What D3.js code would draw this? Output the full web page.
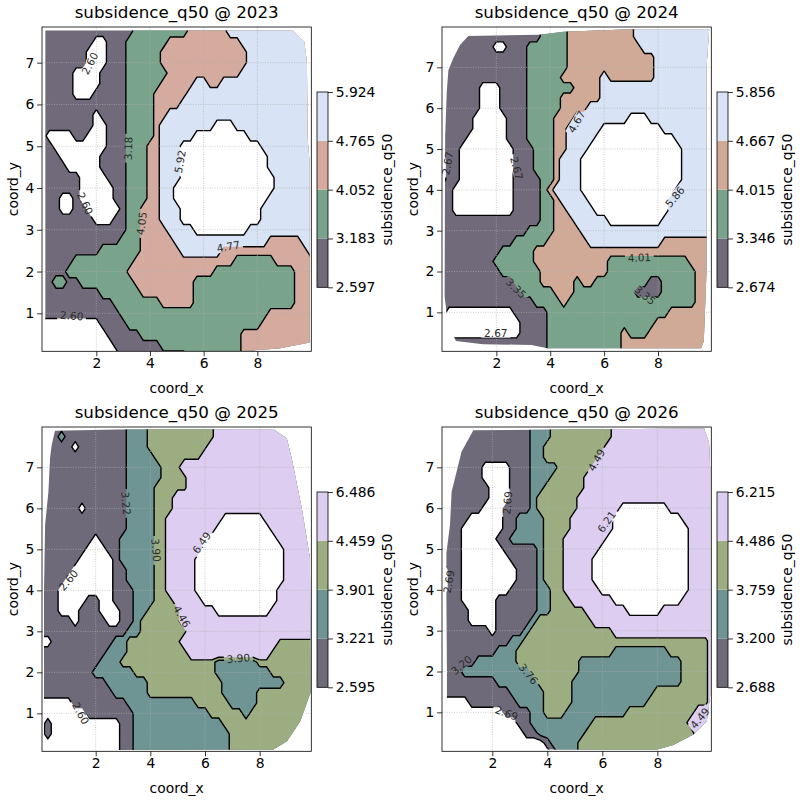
<!DOCTYPE html>
<html><head><meta charset="utf-8">
<script src="https://cdn.jsdelivr.net/npm/d3@7"></script>
<style>body{margin:0;background:#fff}svg{display:block}</style>
</head><body>
<svg id="chart" width="800" height="800"></svg>
<script>
// ---------------- DATA ----------------
const years = [2023, 2024, 2025, 2026];
const xTicks = [2, 4, 6, 8];
const yTicks = [1, 2, 3, 4, 5, 6, 7];

// contour levels (colorbar boundaries)
const levels2023 = [2.597, 3.183, 4.052, 4.765, 5.924];
const levels2024 = [2.674, 3.346, 4.015, 4.667, 5.856];
const levels2025 = [2.595, 3.221, 3.901, 4.459, 6.486];
const levels2026 = [2.688, 3.200, 3.759, 4.486, 6.215];

// representative subsidence value of each band code 0..5 (0 = below lowest level, 5 = above highest)
const bandValues2023 = [2.30, 2.89, 3.62, 4.41, 5.34, 6.50];
const bandValues2024 = [2.34, 3.01, 3.68, 4.34, 5.26, 6.45];
const bandValues2025 = [2.28, 2.91, 3.56, 4.18, 5.47, 7.50];
const bandValues2026 = [2.43, 2.94, 3.48, 4.12, 5.35, 7.08];

// gridded field, x = 0..10 step 0.25 (41 columns), rows y = 8 .. 0 step 0.25 (33 rows),
// run-length encoded as [bandCode, count, bandCode, count, ...]
const grid2023 = [
 [1,14,2,8,3,6,4,13],
 [1,14,2,8,3,6,4,13],
 [1,8,0,2,1,3,2,6,3,11,4,11],
 [1,7,0,3,1,3,2,5,3,13,4,10],
 [1,7,0,3,1,3,2,5,3,13,4,10],
 [1,5,0,4,1,4,2,6,3,11,4,11],
 [1,5,0,4,1,4,2,5,3,5,4,2,3,2,4,14],
 [1,5,0,3,1,5,2,4,3,5,4,19],
 [1,13,2,4,3,4,4,20],
 [1,8,0,1,1,4,2,4,3,2,4,22],
 [1,8,0,2,1,3,2,4,3,1,4,8,5,3,4,12],
 [1,1,0,4,1,2,0,3,1,3,2,4,3,1,4,5,5,8,4,10],
 [1,2,0,8,1,3,2,3,3,2,4,3,5,12,4,8],
 [1,3,0,6,1,4,2,3,3,2,4,3,5,13,4,7],
 [1,4,0,5,1,4,2,3,3,2,4,3,5,13,4,7],
 [1,6,0,4,1,3,2,3,3,2,4,3,5,14,4,6],
 [1,6,0,5,1,2,2,3,3,2,4,2,5,15,4,6],
 [1,3,0,2,1,1,0,5,1,2,2,3,3,2,4,2,5,14,4,7],
 [1,3,0,2,1,2,0,5,1,1,2,2,3,3,4,3,5,12,4,8],
 [1,8,0,3,1,2,2,2,3,3,4,3,5,12,4,8],
 [1,13,2,2,3,4,4,4,5,8,4,10],
 [1,12,2,3,3,5,4,14,3,5,4,2],
 [1,9,2,6,3,6,4,6,3,13,4,1],
 [1,5,2,9,3,15,2,6,3,6],
 [1,4,2,9,3,13,2,12,3,3],
 [1,2,2,2,1,2,2,8,3,9,2,15,3,3],
 [1,9,2,6,3,8,2,15,3,3],
 [1,11,2,7,3,5,2,15,3,3],
 [1,12,2,22,3,7],
 [0,9,1,4,2,20,3,8],
 [0,10,1,5,2,15,3,11],
 [0,11,1,7,2,12,3,11],
 [0,12,1,10,2,8,3,11]
];
const grid2024 = [
 [1,15,2,4,3,10,4,12],
 [1,15,2,4,3,10,4,12],
 [1,8,0,2,1,3,2,6,3,11,4,11],
 [1,13,2,6,3,13,4,9],
 [1,13,2,6,3,13,4,9],
 [1,13,2,5,3,6,4,1,3,7,4,9],
 [1,6,0,3,1,4,2,7,3,4,4,17],
 [1,6,0,3,1,4,2,5,3,6,4,17],
 [1,6,0,3,1,4,2,5,3,4,4,19],
 [1,5,0,5,1,3,2,4,3,3,4,8,5,3,4,10],
 [1,5,0,5,1,3,2,4,3,2,4,5,5,9,4,8],
 [1,4,0,6,1,3,2,4,3,2,4,4,5,12,4,6],
 [1,3,0,8,1,3,2,3,3,2,4,3,5,14,4,5],
 [0,1,1,2,0,8,1,3,2,3,3,1,4,3,5,15,4,5],
 [0,1,1,2,0,8,1,3,2,3,3,1,4,3,5,15,4,5],
 [0,1,1,2,0,8,1,4,2,2,3,1,4,3,5,15,4,5],
 [1,2,0,9,1,4,2,1,3,1,4,4,5,14,4,6],
 [1,2,0,9,1,4,2,2,3,1,4,4,5,12,4,7],
 [1,2,0,9,1,4,2,2,3,2,4,4,5,11,4,7],
 [1,15,2,2,3,3,4,5,5,8,4,8],
 [1,13,2,4,3,4,4,20],
 [1,11,2,5,3,6,4,11,3,8],
 [1,9,2,5,3,27],
 [1,8,2,6,3,11,2,12,3,4],
 [1,9,2,6,3,10,2,13,3,3],
 [1,11,2,4,3,5,2,1,3,2,2,8,1,2,2,5,3,3],
 [1,12,2,5,3,3,2,9,1,4,2,5,3,3],
 [1,14,2,4,3,1,2,19,3,3],
 [1,1,0,10,1,5,2,18,3,7],
 [1,1,0,11,1,4,2,16,3,9],
 [1,1,0,11,1,4,2,11,3,1,2,3,3,10],
 [1,16,2,11,3,14],
 [1,16,2,11,3,14]
];
const grid2025 = [
 [1,13,2,3,3,10,4,15],
 [1,3,2,1,1,9,2,3,3,10,4,15],
 [1,5,0,1,1,7,2,3,3,9,4,16],
 [1,13,2,4,3,7,4,17],
 [1,13,2,5,3,3,4,20],
 [1,13,2,5,3,4,4,19],
 [1,13,2,4,3,5,4,19],
 [1,13,2,4,3,3,4,21],
 [1,6,0,1,1,6,2,4,3,3,4,21],
 [1,13,2,4,3,2,4,8,5,6,4,8],
 [1,13,2,4,3,2,4,7,5,8,4,7],
 [1,8,0,1,1,3,2,5,3,2,4,5,5,11,4,6],
 [1,7,0,3,1,2,2,5,3,2,4,5,5,12,4,5],
 [1,6,0,5,1,1,2,5,3,2,4,4,5,13,4,5],
 [1,5,0,6,1,2,2,4,3,2,4,4,5,13,4,5],
 [1,4,0,7,1,2,2,4,3,2,4,4,5,13,4,5],
 [1,3,0,8,1,3,2,3,3,2,4,4,5,12,4,6],
 [1,3,0,4,1,2,0,2,1,3,2,3,3,3,4,4,5,11,4,6],
 [1,3,0,3,1,3,0,3,1,2,2,2,3,5,4,5,5,8,4,7],
 [1,5,0,1,1,4,0,2,1,2,2,1,3,6,4,20],
 [1,13,2,2,3,7,4,19],
 [0,2,1,9,2,2,3,8,4,14,3,6],
 [1,10,2,3,3,9,4,12,3,7],
 [1,9,2,3,3,14,2,6,3,9],
 [1,8,2,6,3,12,2,8,3,7],
 [1,10,2,6,3,11,2,9,3,5],
 [1,11,2,5,3,11,2,5,3,9],
 [0,5,1,8,2,10,3,5,2,4,3,9],
 [0,7,1,7,2,11,3,5,2,1,3,10],
 [0,1,1,1,0,10,1,2,2,13,3,14],
 [0,1,1,1,0,10,1,2,2,14,3,13],
 [0,12,1,2,2,14,3,13],
 [0,12,1,2,2,14,3,13]
];
const grid2026 = [
 [1,14,2,3,3,9,4,15],
 [1,14,2,3,3,9,4,15],
 [1,14,2,2,3,9,4,16],
 [1,14,2,2,3,8,4,17],
 [1,7,0,4,1,3,2,4,3,5,4,18],
 [1,7,0,4,1,3,2,3,3,5,4,19],
 [1,8,0,3,1,3,2,2,3,6,4,19],
 [1,8,0,3,1,3,2,1,3,6,4,20],
 [1,7,0,3,1,4,2,1,3,6,4,6,5,7,4,7],
 [1,5,0,5,1,2,2,4,3,4,4,6,5,10,4,5],
 [1,4,0,6,1,2,2,4,3,4,4,6,5,11,4,4],
 [1,4,0,5,1,2,2,5,3,3,4,6,5,12,4,4],
 [1,4,0,6,1,5,2,1,3,3,4,5,5,13,4,4],
 [1,4,0,7,1,4,2,1,3,3,4,4,5,14,4,4],
 [0,2,1,2,0,8,1,3,2,1,3,3,4,4,5,14,4,4],
 [0,2,1,2,0,8,1,3,2,1,3,3,4,4,5,14,4,4],
 [0,2,1,2,0,7,1,4,2,2,3,2,4,5,5,13,4,4],
 [1,4,0,5,1,6,2,2,3,3,4,6,5,10,4,5],
 [1,5,0,4,1,6,2,2,3,5,4,6,5,5,4,8],
 [1,5,0,4,1,5,2,1,3,8,4,18],
 [1,8,0,1,1,4,2,1,3,12,4,15],
 [1,11,2,2,3,27,4,1],
 [1,9,2,3,3,14,2,8,3,6,4,1],
 [1,6,2,6,3,9,2,15,3,4,4,1],
 [1,4,2,10,3,7,2,15,3,4,4,1],
 [1,9,2,6,3,5,2,16,3,4,4,1],
 [1,11,2,5,3,4,2,12,3,8,4,1],
 [0,5,1,7,2,4,3,4,2,11,3,9,4,1],
 [0,10,1,4,2,2,3,3,2,9,3,10,4,3],
 [0,12,1,2,2,9,3,14,4,4],
 [0,13,1,2,2,7,3,16,4,3],
 [0,16,1,1,2,4,3,17,4,3],
 [0,17,1,1,2,3,3,17,4,3]
];

// outline of the sampled area (coord_x, coord_y)
const hull2023 = [[0.1,0.1],[0.1,7.77],[9.3,7.77],[9.75,7.5],[9.85,7.0],[9.87,5.2],[9.95,4.6],[9.95,0.3],[8.8,0.16],[7.6,0.1]];
const hull2024 = [[0.08,1.4],[0.1,5.3],[0.16,6.4],[0.22,6.93],[0.4,7.22],[0.65,7.55],[0.96,7.77],[3.6,7.8],[4.5,7.87],[7.0,7.93],[9.9,7.93],[9.8,7.0],[9.8,2.0],[9.7,0.3],[9.6,0.12],[3.9,0.12],[3.3,0.2],[1.5,0.22],[0.5,0.3],[0.3,0.6],[0.15,1.0]];
const hull2025 = [[0.11,0.1],[0.11,4.0],[0.15,5.6],[0.27,6.4],[0.33,7.22],[0.39,7.54],[0.51,7.89],[2.8,7.92],[8.5,7.93],[8.99,7.71],[9.17,7.22],[9.54,6.0],[9.84,4.78],[9.86,1.5],[9.48,0.8],[9.0,0.32],[8.5,0.12]];
const hull2026 = [[0.35,0.09],[0.35,2.0],[0.33,3.7],[0.33,4.9],[0.46,5.59],[0.52,6.4],[0.88,7.38],[1.31,7.91],[9.7,7.95],[9.88,7.6],[9.92,7.0],[9.92,1.4],[9.8,0.79],[9.31,0.46],[8.58,0.2],[8.0,0.09]];

// inline contour labels: [text, coord_x, coord_y, angle]
const labels2023 = [["2.60",1.76,6.98,-62],["3.18",3.19,4.95,-88],["5.92",5.12,4.63,-80],["2.60",1.58,3.63,65],["4.05",3.69,3.15,-82],["4.77",6.92,2.60,-10],["2.60",1.08,0.94,4]];
const labels2024 = [["2.67",0.19,4.65,-80],["2.67",2.75,4.53,75],["4.67",4.98,5.67,-60],["5.86",8.63,3.83,-50],["4.01",7.31,2.34,-3],["3.35",2.73,1.59,45],["3.35",7.52,1.42,40],["2.67",1.98,0.50,0]];
const labels2025 = [["3.22",3.11,6.12,85],["3.90",4.21,4.98,85],["6.49",5.88,5.16,-55],["2.60",1.0,4.25,-50],["4.46",5.15,3.36,60],["3.90",7.22,2.34,-5],["2.60",1.45,1.0,62]];
const labels2026 = [["4.49",5.79,7.18,-60],["2.69",2.55,6.13,-85],["6.21",6.16,5.67,-55],["2.69",0.42,4.2,-80],["3.20",0.88,2.16,-40],["3.76",3.31,1.94,50],["2.69",2.52,0.98,20],["4.49",9.55,0.86,-50]];

const colors2023 = ["#706a7b", "#79a48b", "#d5ab9f", "#d8e3f5"];
const colors2024 = ["#706a7b", "#79a48b", "#d0aa96", "#d8e3f5"];
const colors2025 = ["#6f6a79", "#6e9593", "#9cae81", "#dccdf1"];
const colors2026 = ["#6f6a79", "#6e9593", "#9cae81", "#dccdf1"];

const xDomains = [[-0.025, 10.012], [-0.017, 9.978], [0.036, 9.889], [0.170, 9.963]];
const yDomains = [[0.091, 7.854], [0.046, 7.988], [0.074, 7.984], [0.046, 7.988]];

// ---------------- LAYOUT ----------------
const FONT = "DejaVu Sans, sans-serif";
const nx = 41, ny = 33, step = 0.25;
const AW = 269.3, AH = 324.3;
const axesPos = [[42, 27], [442, 27], [42, 427], [442, 427]];
const cbPos = [[317, 92], [717, 92], [317, 492], [717, 492]];
const cbW = 11, cbH = 195.3;

const panels = [
  {year: years[0], levels: levels2023, bandValues: bandValues2023, grid: grid2023, hull: hull2023, labels: labels2023, colors: colors2023},
  {year: years[1], levels: levels2024, bandValues: bandValues2024, grid: grid2024, hull: hull2024, labels: labels2024, colors: colors2024},
  {year: years[2], levels: levels2025, bandValues: bandValues2025, grid: grid2025, hull: hull2025, labels: labels2025, colors: colors2025},
  {year: years[3], levels: levels2026, bandValues: bandValues2026, grid: grid2026, hull: hull2026, labels: labels2026, colors: colors2026}
];

function expandGrid(rle) {
  const rows = rle.map(r => {
    const out = [];
    for (let i = 0; i < r.length; i += 2) for (let k = 0; k < r[i + 1]; k++) out.push(r[i]);
    while (out.length < nx) out.push(out[out.length - 1]);
    return out.slice(0, nx);
  });
  while (rows.length < ny) rows.push(rows[rows.length - 1]);
  return rows.slice(0, ny).reverse(); // row 0 = coord_y 0
}

const svg = d3.select("#chart");
const defs = svg.append("defs");

panels.forEach((p, idx) => {
  const [L, T] = axesPos[idx];
  const x = d3.scaleLinear().domain(xDomains[idx]).range([L, L + AW]);
  const y = d3.scaleLinear().domain(yDomains[idx]).range([T + AH, T]);

  const values = expandGrid(p.grid).flat().map(c => p.bandValues[c]);
  const contours = d3.contours().size([nx, ny]).thresholds(p.levels)(values);
  const proj = d3.geoTransform({
    point: function (gx, gy) { this.stream.point(x((gx - 0.5) * step), y((gy - 0.5) * step)); }
  });
  const path = d3.geoPath(proj);

  defs.append("clipPath").attr("id", "ax" + idx).append("rect")
    .attr("x", L).attr("y", T).attr("width", AW).attr("height", AH);
  defs.append("clipPath").attr("id", "hull" + idx).append("polygon")
    .attr("points", p.hull.map(d => x(d[0]) + "," + y(d[1])).join(" "));

  const gAx = svg.append("g").attr("clip-path", `url(#ax${idx})`);
  const gData = gAx.append("g").attr("clip-path", `url(#hull${idx})`);

  // filled bands (painter's order); region above top level stays white
  gData.append("g").selectAll("path").data(contours).join("path")
    .attr("d", path)
    .attr("fill", (d, i) => i < 4 ? p.colors[i] : "#ffffff")
    .attr("stroke", "none");

  // grid
  const gGrid = gAx.append("g").attr("stroke", "#b0b0b0").attr("stroke-width", 0.8)
    .attr("stroke-dasharray", "0.8,1.6");
  gGrid.selectAll("line.vx").data(xTicks).join("line")
    .attr("x1", d => x(d)).attr("x2", d => x(d)).attr("y1", T).attr("y2", T + AH);
  gGrid.selectAll("line.hy").data(yTicks).join("line")
    .attr("y1", d => y(d)).attr("y2", d => y(d)).attr("x1", L).attr("x2", L + AW);

  // mask gaps for inline labels
  const mask = defs.append("mask").attr("id", "lm" + idx).attr("maskUnits", "userSpaceOnUse")
    .attr("x", 0).attr("y", 0).attr("width", 800).attr("height", 800);
  mask.append("rect").attr("width", 800).attr("height", 800).attr("fill", "white");
  p.labels.forEach(l => {
    const w = l[0].length * 6.2 + 4, h = 10;
    mask.append("rect").attr("x", -w / 2).attr("y", -h / 2).attr("width", w).attr("height", h)
      .attr("fill", "black")
      .attr("transform", `translate(${x(l[1])},${y(l[2])}) rotate(${l[3]})`);
  });

  gData.append("g").attr("mask", `url(#lm${idx})`)
    .selectAll("path").data(contours).join("path")
    .attr("d", path).attr("fill", "none").attr("stroke", "#000").attr("stroke-width", 1.4)
    .attr("stroke-linejoin", "round");

  gAx.append("g").selectAll("text").data(p.labels).join("text")
    .attr("transform", l => `translate(${x(l[1])},${y(l[2])}) rotate(${l[3]})`)
    .attr("text-anchor", "middle").attr("dy", "0.36em")
    .attr("font-family", FONT).attr("font-size", 10.5).attr("fill", "#2b2b2b")
    .text(l => l[0]);

  // spines
  svg.append("rect").attr("x", L).attr("y", T).attr("width", AW).attr("height", AH)
    .attr("fill", "none").attr("stroke", "#000").attr("stroke-width", 0.8);

  // axes
  const styleAxis = g => {
    g.select(".domain").remove();
    g.attr("font-family", FONT).attr("font-size", 13.9);
    g.selectAll("line").attr("stroke", "#000").attr("stroke-width", 0.8);
    g.selectAll("text").attr("fill", "#000");
  };
  svg.append("g").attr("transform", `translate(0,${T + AH})`)
    .call(d3.axisBottom(x).tickValues(xTicks).tickFormat(d3.format("d")).tickSize(4.9).tickPadding(2.2))
    .call(styleAxis);
  svg.append("g").attr("transform", `translate(${L},0)`)
    .call(d3.axisLeft(y).tickValues(yTicks).tickFormat(d3.format("d")).tickSize(4.9).tickPadding(2.8))
    .call(styleAxis);

  // titles / labels
  svg.append("text").attr("x", L + AW / 2).attr("y", T - 9).attr("text-anchor", "middle")
    .attr("font-family", FONT).attr("font-size", 16.7).text(`subsidence_q50 @ ${p.year}`);
  svg.append("text").attr("x", L + AW / 2).attr("y", T + AH + 41.5).attr("text-anchor", "middle")
    .attr("font-family", FONT).attr("font-size", 13.9).text("coord_x");
  svg.append("text").attr("transform", `translate(${L - 24.5},${T + AH / 2}) rotate(-90)`)
    .attr("text-anchor", "middle").attr("font-family", FONT).attr("font-size", 13.9).text("coord_y");

  // colorbar
  const [cx, cy] = cbPos[idx];
  const yc = d3.scaleLinear().domain([0, 4]).range([cy + cbH, cy]);
  svg.append("g").selectAll("rect").data(p.colors).join("rect")
    .attr("x", cx).attr("width", cbW)
    .attr("y", (d, i) => yc(i + 1)).attr("height", (d, i) => yc(i) - yc(i + 1))
    .attr("fill", d => d);
  svg.append("rect").attr("x", cx).attr("y", cy).attr("width", cbW).attr("height", cbH)
    .attr("fill", "none").attr("stroke", "#000").attr("stroke-width", 0.8);
  svg.append("g").attr("transform", `translate(${cx + cbW},0)`)
    .call(d3.axisRight(yc).tickValues([0, 1, 2, 3, 4]).tickFormat(i => p.levels[i].toFixed(3)).tickSize(4.9).tickPadding(2.8))
    .call(styleAxis);
  svg.append("text").attr("transform", `translate(${cx + 75},${cy + cbH / 2}) rotate(-90)`)
    .attr("text-anchor", "middle").attr("font-family", FONT).attr("font-size", 13.9).text("subsidence_q50");
});
</script>
</body></html>
